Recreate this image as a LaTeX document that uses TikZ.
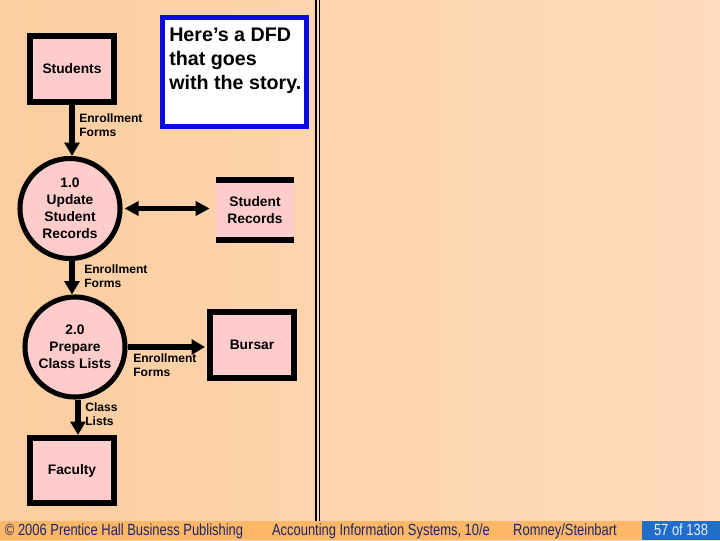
\documentclass[tikz,border=0pt]{standalone}
\usepackage{fontspec}
\setmainfont{Liberation Sans}
\usetikzlibrary{arrows.meta}
\definecolor{bgL}{RGB}{252,206,160}
\definecolor{bgR}{RGB}{254,220,188}
\definecolor{pinkfill}{RGB}{255,204,204}
\definecolor{footbar}{RGB}{252,184,102}
\definecolor{footblue}{RGB}{32,110,200}
\definecolor{foottext}{RGB}{28,36,110}
\definecolor{noteblue}{RGB}{10,10,230}
\tikzset{
  nodefont/.style={font=\bfseries\fontsize{9.8}{12}\selectfont},
  entity/.style={draw=black, line width=4.25pt, fill=pinkfill, inner sep=0pt,
    nodefont, align=center, minimum width=2.1cm, minimum height=1.65cm},
  proc/.style={circle, draw=black, line width=3.6pt, fill=pinkfill, inner sep=0pt,
    nodefont, align=center, minimum size=2.5cm},
  storebox/.style={fill=pinkfill, inner sep=0pt, nodefont, align=center,
    minimum width=1.95cm, minimum height=1.5cm},
  flowlbl/.style={font=\bfseries\fontsize{8.6}{10.6}\selectfont, align=left, anchor=north west, inner sep=0pt},
  flow/.style={line width=4.25pt, -{Triangle[length=9.5pt,width=10.5pt]}},
  flowtwo/.style={line width=3.5pt, {Triangle[length=10pt,width=10pt]}-{Triangle[length=10pt,width=10pt]}},
  foot/.style={font=\fontsize{11.5}{13}\selectfont, text=foottext, inner sep=0pt, anchor=base}
}
\begin{document}
\begin{tikzpicture}[x=0.025cm,y=-0.025cm]
\useasboundingbox (0,0) rectangle (720,540);
\shade[left color=bgL, right color=bgR] (0,0) rectangle (720,540);
% footer
\fill[footbar] (0,521) rectangle (720,540);
\fill[footblue] (642,521) rectangle (720,540);
\node[foot] (f1) at (124,535.5) {\scalebox{0.8}[1]{© 2006 Prentice Hall Business Publishing}};
\node[foot] (f2) at (381,535.5) {\scalebox{0.8}[1]{Accounting Information Systems, 10/e}};
\node[foot] (f3) at (565,535.5) {\scalebox{0.8}[1]{Romney/Steinbart}};
\node[foot, text=white!92!blue] (f4) at (681,535.5) {\scalebox{0.8}[1]{57 of 138}};
% double vertical line
\draw[line width=1.2pt] (316,0) -- (316,521);
\draw[line width=1.2pt] (319.5,0) -- (319.5,521);
% note box
\node[draw=noteblue, line width=3.55pt, fill=white, minimum width=3.6cm, minimum height=2.725cm, inner sep=0pt] (note) at (234.5,72) {};
\node[font=\bfseries\fontsize{14}{17}\selectfont, align=left, anchor=north west, inner sep=0pt] (notetxt) at (169,27.5) {Here’s a DFD\\that goes\\with the story.};
% nodes
\node[entity] (students) at (72,69) {Students};
\node[proc] (p1) at (70,208.5) {1.0\\Update\\Student\\Records};
\node[proc] (p2) at (75,347) {2.0\\Prepare\\Class Lists};
\node[entity] (bursar) at (252,345) {Bursar};
\node[entity, minimum height=1.625cm] (faculty) at (72,470.5) {Faculty};
% data store
\node[storebox] (store) at (255,210) {Student\\Records};
\draw[line width=4.25pt] (store.north west) -- (store.north east);
\draw[line width=4.25pt] (store.south west) -- (store.south east);
% flows
\draw[flow] (students.south) -- (students.south |- p1.north);
\node[flowlbl] (l1) at (79,113) {Enrollment\\Forms};
\draw[flowtwo] ([xshift=0.05cm]p1.east) -- ([xshift=-0.15cm]p1.east -| store.west);
\draw[flow] ([xshift=0.05cm]p1.south) -- ([xshift=0.05cm]p1.south |- p2.north);
\node[flowlbl] (l2) at (84,264) {Enrollment\\Forms};
\draw[flow] (p2.east) -- ([xshift=-0.05cm]p2.east -| bursar.west);
\node[flowlbl] (l3) at (133,353) {Enrollment\\Forms};
\draw[flow] ([xshift=0.075cm]p2.south) -- ([xshift=0.075cm]p2.south |- faculty.north);
\node[flowlbl] (l4) at (85,402) {Class\\Lists};
\end{tikzpicture}
\end{document}
